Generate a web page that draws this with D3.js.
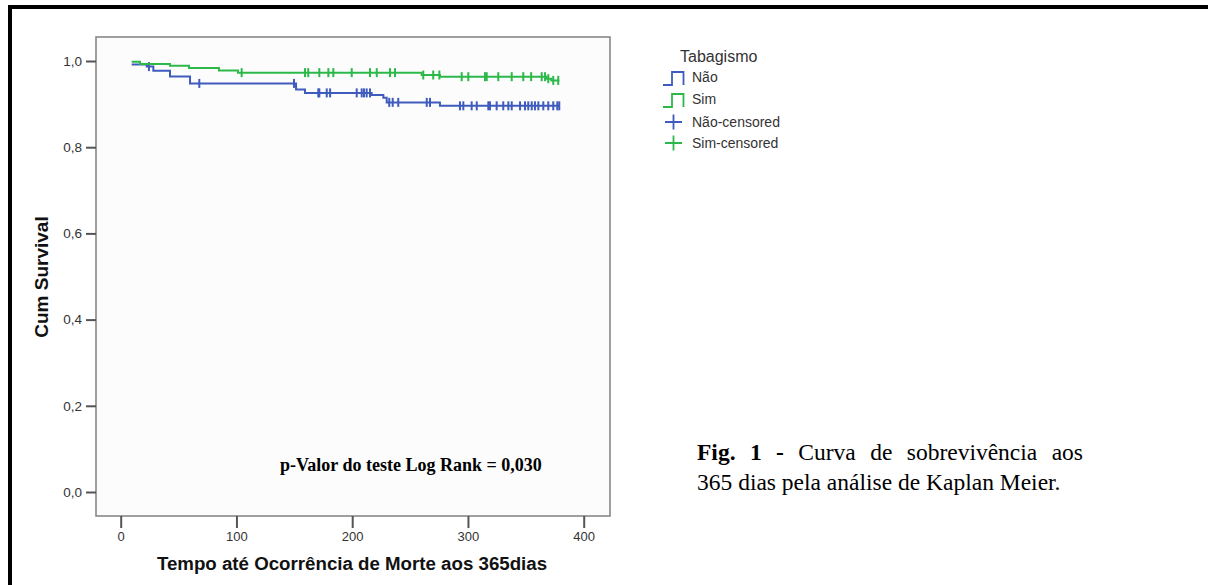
<!DOCTYPE html>
<html>
<head>
<meta charset="utf-8">
<script src="https://d3js.org/d3.v7.min.js"></script>
<title>Kaplan Meier</title>
<style>
  body { margin: 0; background: #fff; }
</style>
</head>
<body>
<svg id="chart"></svg>
<script>
// step times (days) and cumulative survival after each step
const naoTime = [9.5, 22.5, 28.2, 42.6, 59.9, 151.5, 159.2, 216.8, 226.9, 229.8, 275.8];
const naoSurv = [0.992, 0.987, 0.9775, 0.964, 0.948, 0.934, 0.926, 0.921, 0.915, 0.904, 0.896];
const naoCensor = [24.4, 67.9, 149.7, 170.7, 171.6, 178, 180.9, 203.9, 208.2, 210.2, 212.5, 215.4,
  232, 235, 239.8, 264.4, 267.2, 293.1, 296, 303.2, 307.6, 317.6, 319, 324.8, 330.5, 334.9,
  337.8, 345, 349.3, 352.1, 355.1, 357.9, 360.8, 365.1, 369.4, 373.7, 377.2, 378.9];

const simTime = [9.5, 16.7, 42.6, 59, 84.9, 101.3, 260, 275.8, 368, 372];
const simSurv = [0.998, 0.993, 0.989, 0.984, 0.978, 0.973, 0.9675, 0.9636, 0.959, 0.955];
const simCensor = [104.5, 159.2, 162, 171.6, 179.4, 183.7, 199.6, 215.4, 221.2, 232.7, 237,
  261.4, 270, 275.3, 294.6, 300.3, 314.7, 316.2, 326.2, 337.8, 347.8, 354.6, 363.7, 366.6,
  369.4, 373.7, 378];

const endTime = 379;
const xTicks = [0, 100, 200, 300, 400];
const yTicks = [0, 0.2, 0.4, 0.6, 0.8, 1.0];
const groups = ['Não', 'Sim'];
const colors = ['#3e5bbd', '#2db84a'];

const svg = d3.select('#chart').attr('width', 1208).attr('height', 585);

// outer black frame (left and top visible)
svg.append('path')
  .attr('d', 'M10,600 V7 H1220')
  .attr('fill', 'none').attr('stroke', '#000').attr('stroke-width', 4);

const box = { left: 96, right: 610, top: 37, bottom: 516 };

const x = d3.scaleLinear().domain([0, 400]).range([120.7, 583.7]);
const y = d3.scaleLinear().domain([0, 1]).range([492, 61]);

svg.append('rect')
  .attr('x', box.left).attr('y', box.top)
  .attr('width', box.right - box.left).attr('height', box.bottom - box.top)
  .attr('fill', '#fcfcfc').attr('stroke', '#808080').attr('stroke-width', 1.5);

// y axis
const yAxis = svg.append('g').attr('transform', `translate(${box.left},0)`)
  .call(d3.axisLeft(y).tickValues(yTicks).tickSize(10).tickPadding(4)
    .tickFormat(d => d3.format('.1f')(d).replace('.', ',')));
yAxis.select('.domain').remove();
yAxis.selectAll('line').attr('stroke', '#555').attr('stroke-width', 2);
yAxis.selectAll('text').attr('font-family', 'Liberation Sans, Arial').attr('font-size', 13.5).attr('fill', '#333');

// x axis
const xAxis = svg.append('g').attr('transform', `translate(0,${box.bottom})`)
  .call(d3.axisBottom(x).tickValues(xTicks).tickSize(12).tickPadding(4));
xAxis.select('.domain').remove();
xAxis.selectAll('line').attr('stroke', '#555').attr('stroke-width', 2);
xAxis.selectAll('text').attr('font-family', 'Liberation Sans, Arial').attr('font-size', 13).attr('fill', '#333');

// axis titles
svg.append('text')
  .attr('transform', 'translate(48,277) rotate(-90)')
  .attr('text-anchor', 'middle')
  .attr('font-family', 'Liberation Sans, Arial').attr('font-weight', 'bold').attr('font-size', 19)
  .attr('fill', '#111')
  .text('Cum Survival');

svg.append('text')
  .attr('x', 352).attr('y', 570)
  .attr('text-anchor', 'middle')
  .attr('font-family', 'Liberation Sans, Arial').attr('font-weight', 'bold').attr('font-size', 18.7)
  .attr('fill', '#111')
  .text('Tempo até Ocorrência de Morte aos 365dias');

// curves
function survAt(times, surv, t) {
  let s = surv[0];
  times.forEach((ti, i) => { if (ti <= t) s = surv[i]; });
  return s;
}

const line = d3.line().x(d => x(d[0])).y(d => y(d[1])).curve(d3.curveStepAfter);

const series = [
  { times: naoTime, surv: naoSurv, censor: naoCensor, color: colors[0] },
  { times: simTime, surv: simSurv, censor: simCensor, color: colors[1] }
];

series.forEach(sr => {
  const pts = sr.times.map((t, i) => [t, sr.surv[i]]);
  pts.push([endTime, sr.surv[sr.surv.length - 1]]);
  svg.append('path')
    .attr('d', line(pts))
    .attr('fill', 'none').attr('stroke', sr.color).attr('stroke-width', 2);

  svg.append('g').selectAll('line').data(sr.censor)
    .join('line')
    .attr('x1', d => x(d)).attr('x2', d => x(d))
    .attr('y1', d => y(survAt(sr.times, sr.surv, d)) - 4.5)
    .attr('y2', d => y(survAt(sr.times, sr.surv, d)) + 4.5)
    .attr('stroke', sr.color).attr('stroke-width', 2);
});

// p-value note
svg.append('text')
  .attr('x', 280).attr('y', 471)
  .attr('font-family', 'Liberation Serif, Times New Roman').attr('font-weight', 'bold').attr('font-size', 18)
  .attr('fill', '#000')
  .text('p-Valor do teste Log Rank = 0,030');

// legend
const leg = svg.append('g');
leg.append('text').attr('x', 680).attr('y', 62)
  .attr('font-family', 'Liberation Sans, Arial').attr('font-size', 16).attr('fill', '#333')
  .text('Tabagismo');

const legLabels = ['Não', 'Sim', 'Não-censored', 'Sim-censored'];
const legY = [77, 99, 122, 143];
legLabels.forEach((lab, i) => {
  const cy = legY[i];
  const c = colors[i % 2];
  if (i < 2) {
    leg.append('path')
      .attr('d', `M663,${cy + 8} H672 V${cy - 5} H683.5 V${cy + 8}`)
      .attr('fill', 'none').attr('stroke', c).attr('stroke-width', 1.8);
  } else {
    leg.append('path')
      .attr('d', `M665,${cy} H682 M673.5,${cy - 7.5} V${cy + 7.5}`)
      .attr('fill', 'none').attr('stroke', c).attr('stroke-width', 1.8);
  }
  leg.append('text').attr('x', 692).attr('y', cy + 5)
    .attr('font-family', 'Liberation Sans, Arial').attr('font-size', 14).attr('fill', '#333')
    .text(lab);
});

// caption, first line justified
const capFont = 'Liberation Serif, Times New Roman';
const line1 = [
  { t: 'Fig.', b: true }, { t: '1', b: true }, { t: '-', b: true },
  { t: 'Curva' }, { t: 'de' }, { t: 'sobrevivência' }, { t: 'aos' }
];
const capLeft = 697, capRight = 1083;
const words = line1.map(w => svg.append('text')
  .attr('y', 460)
  .attr('font-family', capFont).attr('font-size', 23.5)
  .attr('font-weight', w.b ? 'bold' : 'normal')
  .attr('fill', '#000')
  .text(w.t));
const widths = words.map(w => w.node().getComputedTextLength());
const gap = (capRight - capLeft - d3.sum(widths)) / (words.length - 1);
let cx = capLeft;
words.forEach((w, i) => { w.attr('x', cx); cx += widths[i] + gap; });

svg.append('text')
  .attr('x', capLeft).attr('y', 490)
  .attr('font-family', capFont).attr('font-size', 23.5).attr('fill', '#000')
  .text('365 dias pela análise de Kaplan Meier.');
</script>
</body>
</html>
